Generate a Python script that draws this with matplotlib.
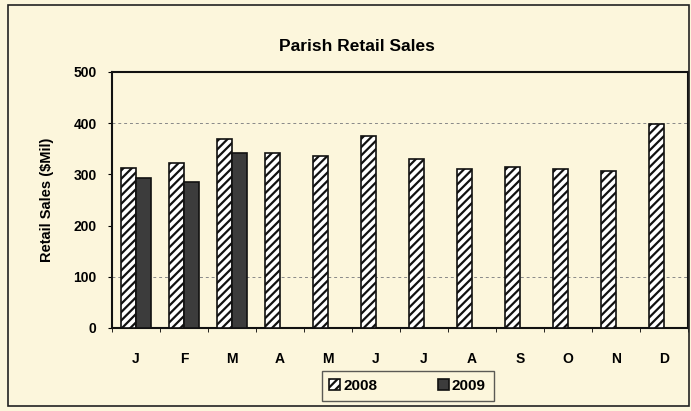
import matplotlib.pyplot as plt
import numpy as np
from matplotlib.patches import Rectangle

months = ['J', 'F', 'M', 'A', 'M', 'J', 'J', 'A', 'S', 'O', 'N', 'D']
sales_2008 = [312, 323, 369, 341, 335, 374, 330, 310, 315, 311, 306, 398]
sales_2009 = [292, 285, 342]

bg = '#fcf6dc'
plt.rcParams['font.family'] = ['Liberation Sans', 'DejaVu Sans']
plt.rcParams['hatch.linewidth'] = 1.6

fig = plt.figure(figsize=(6.91, 4.11), dpi=100, facecolor=bg)
ax = fig.add_axes([0.162, 0.202, 0.834, 0.623], facecolor=bg)

# outer chart border
fig.add_artist(Rectangle((0.012, 0.012), 0.985, 0.975, transform=fig.transFigure,
                         fill=False, edgecolor='#222222', linewidth=1.2))

x = np.arange(len(months))
w = 0.32
ax.bar(x - w / 2, sales_2008, w, color='white', edgecolor='#111111',
       hatch='////', linewidth=1.2, label='2008', zorder=3)
ax.bar(x[:len(sales_2009)] + w / 2, sales_2009, w, color='#3c3c3c',
       edgecolor='#111111', linewidth=1.2, label='2009', zorder=3)

for g in [100, 400]:
    ax.axhline(g, color='#888888', linewidth=0.7, linestyle=(0, (3, 3)), zorder=1)

ax.set_xlim(-0.5, 11.5)
ax.set_ylim(0, 500)
ax.set_yticks([0, 100, 200, 300, 400, 500])
ax.set_xticks(x)
ax.set_xticklabels(months, fontweight='bold', fontsize=10)
ax.set_xticks(np.arange(-0.5, 12, 1), minor=True)
ax.tick_params(axis='x', which='major', length=0, pad=17)
ax.tick_params(axis='x', which='minor', length=3, direction='out')
ax.tick_params(axis='y', length=3, labelsize=10, pad=8)
for t in ax.get_yticklabels():
    t.set_fontweight('bold')
for s in ax.spines.values():
    s.set_linewidth(1.5)
    s.set_color('#111111')

ax.set_ylabel('Retail Sales ($Mil)', fontweight='bold', fontsize=10.5, labelpad=14)
fig.text(0.516, 0.886, 'Parish Retail Sales', ha='center', va='center',
         fontweight='bold', fontsize=12.5)

leg = fig.legend(loc='center', ncol=2,
                 frameon=True, fancybox=False, edgecolor='#333333',
                 facecolor=bg, prop={'weight': 'bold', 'size': 11},
                 handlelength=0.7, handleheight=0.7, handletextpad=0.2,
                 columnspacing=4.0, borderpad=0.5, borderaxespad=0)
leg.get_frame().set_linewidth(1.0)
leg.set_bbox_to_anchor((0.59, 0.061), transform=fig.transFigure)

fig.savefig('out.png', dpi=100, facecolor=bg)
